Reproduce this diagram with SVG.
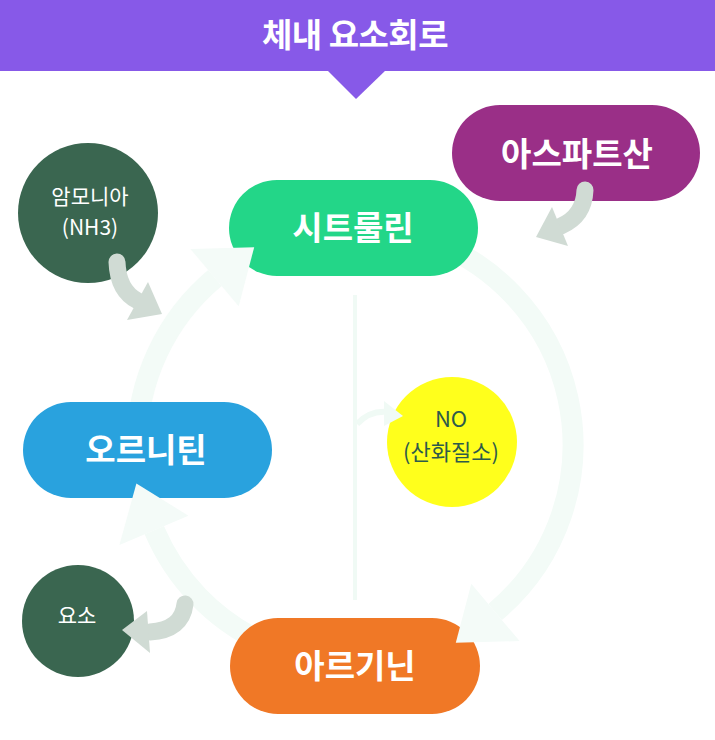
<svg xmlns="http://www.w3.org/2000/svg" width="715" height="740" viewBox="0 0 715 740">
  <style>
    .pill-t { font-family: "Noto Sans CJK KR", "Noto Sans", sans-serif; font-weight: 700; font-size: 33px; fill: #ffffff; text-anchor: middle; }
    .circ-t { font-family: "Noto Sans CJK KR", "Noto Sans", sans-serif; font-weight: 400; font-size: 21px; fill: #ffffff; text-anchor: middle; }
    .no-t { font-family: "Noto Sans CJK KR", "Noto Sans", sans-serif; font-weight: 400; font-size: 22px; fill: #2e5a4b; text-anchor: middle; }
    .band { fill: none; stroke: #f3fbf7; stroke-width: 21; }
    .band-head { fill: #f4fbf8; }
    .gray { fill: none; stroke: #d0dbd4; stroke-width: 17; stroke-linecap: round; }
    .gray-head { fill: #d0dbd4; }
  </style>
  <rect width="715" height="740" fill="#ffffff"/>

  <g id="header">
    <rect x="0" y="0" width="715" height="71" fill="#8759e8"/>
    <polygon points="327,70 386,70 356,99" fill="#8759e8"/>
    <text x="355" y="47" font-family="'Noto Sans CJK KR', sans-serif" font-weight="700" font-size="33" fill="#ffffff" text-anchor="middle" letter-spacing="-0.5">체내 요소회로</text>
  </g>

  <g id="cycle-bands">
    <path class="band" d="M411.4,234.4 A218,218 0 0 1 495.1,612.0"/>
    <path class="band" d="M137,445 A218,218 0 0 1 214.9,278.0"/>
    <path class="band" d="M262.9,642.6 A218,218 0 0 1 154.3,530.2"/>
    <rect x="353" y="295" width="4" height="305" fill="#f0faf5"/>
  </g>

  <g id="node-citrulline">
    <rect x="229" y="180" width="249" height="96" rx="48" fill="#23d688"/>
    <text class="pill-t" x="353" y="240">시트룰린</text>
  </g>
  <g id="node-aspartate">
    <rect x="452" y="105" width="248" height="96" rx="48" fill="#9a2f87"/>
    <text class="pill-t" x="577" y="166">아스파트산</text>
  </g>
  <g id="node-ornithine">
    <rect x="23" y="402" width="249" height="96" rx="48" fill="#29a2de"/>
    <text class="pill-t" x="146" y="462">오르니틴</text>
  </g>
  <g id="node-arginine">
    <rect x="230" y="618" width="250" height="96" rx="48" fill="#f07826"/>
    <text class="pill-t" x="355" y="678">아르기닌</text>
  </g>
  <g id="node-ammonia">
    <circle cx="88" cy="213" r="70" fill="#3a6650"/>
    <text class="circ-t" x="90" y="204" font-size="22">암모니아</text>
    <text class="circ-t" x="90" y="235">(NH3)</text>
  </g>
  <g id="node-urea">
    <circle cx="78" cy="621" r="56" fill="#3a6650"/>
    <text class="circ-t" x="77" y="623" font-size="20">요소</text>
  </g>
  <g id="node-no">
    <circle cx="452" cy="442" r="65" fill="#ffff1c"/>
    <text class="no-t" x="451" y="427" font-size="23">NO</text>
    <text class="no-t" x="451" y="460">(산화질소)</text>
  </g>

  <g id="connectors">
    <polygon class="band-head" points="471.3,583.7 519.6,641.1 455.8,642.8"/>
    <polygon class="band-head" points="238.7,306.3 190.4,248.9 254.2,247.2"/>
    <polygon class="band-head" points="188.4,515.7 119.4,545.0 136.4,483.5"/>
    <path d="M357,424 Q370,410 388,412" fill="none" stroke="#f0faf5" stroke-width="6"/>
    <polygon points="384,401 403,416 384,426" fill="#f0faf5"/>
    <path class="gray" d="M117,262 Q118,291 138,301"/>
    <polygon class="gray-head" points="148,282 162,314 127,320"/>
    <path class="gray" d="M585,190 Q584,216 561,226"/>
    <polygon class="gray-head" points="552,207 568,246 536,237"/>
    <path class="gray" d="M185,604 Q182,630 150,632"/>
    <polygon class="gray-head" points="147,611 150,653 122,630"/>
  </g>
</svg>
